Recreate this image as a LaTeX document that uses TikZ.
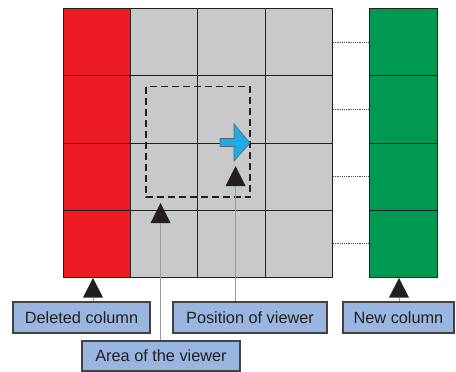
\documentclass[tikz,border=0pt]{standalone}
\usepackage{fontspec}
\setmainfont{Liberation Sans}
\definecolor{cellred}{RGB}{237,28,36}
\definecolor{cellgray}{RGB}{200,201,203}
\definecolor{cellgreen}{RGB}{0,153,84}
\definecolor{arrowblue}{RGB}{30,172,230}
\definecolor{boxblue}{RGB}{152,182,224}
\definecolor{ink}{RGB}{35,31,32}
\tikzset{
  gridline/.style={draw=ink, line width=0.9pt},
  label box/.style={draw=ink!85, line width=1.2pt, fill=boxblue,
    minimum height=31pt, inner sep=0pt, text=ink, font=\fontsize{16.3}{19}\selectfont},
  pointer/.style={fill=ink},
  leader/.style={draw=gray!80, line width=0.7pt},
  guide/.style={draw=ink!80, line width=0.8pt, dash pattern=on 1.2pt off 1pt},
  viewport/.style={draw=ink, line width=1.8pt, dash pattern=on 7pt off 4pt},
}
\begin{document}
\begin{tikzpicture}[x=1pt,y=-1pt]
\useasboundingbox (0,0) rectangle (456,372);

% the grid of cells, first column marked for deletion
\fill[cellgray] (63,8) rectangle (332,277);
\fill[cellred] (63,8) rectangle (130,277);
\draw[gridline] (63,8) rectangle (332,277);
\foreach \x in {130,197,265} \draw[gridline] (\x,8) -- (\x,277);
\foreach \y in {75,143,210} \draw[gridline] (63,\y) -- (332,\y);

% incoming column
\fill[cellgreen] (369,8) rectangle (437,277);
\draw[gridline] (369,8) rectangle (437,277);
\foreach \y in {75,143,210} \draw[gridline] (369,\y) -- (437,\y);

% row guides between grid and new column
\foreach \y in {42,109,176,243} \draw[guide] (333,\y) -- (369,\y);

% area seen by the viewer
\draw[viewport] (146,86.5) rectangle (250,197);

% viewer position and heading
\filldraw[fill=arrowblue, draw=ink!70, line width=0.6pt]
  (220,138.5) -- (234,138.5) -- (234,124) -- (250,143) -- (234,161)
  -- (234,146.5) -- (220,146.5) -- cycle;

% pointer triangles; each base is a named coordinate
\coordinate (tdel) at (93,297.5);
\coordinate (tarea) at (160.5,223);
\coordinate (tpos) at (235.5,186);
\coordinate (tnew) at (399,297.5);
\fill[pointer] (tdel) ++(-10,0) -- ++(10,-19.5) -- ++(10,19.5) -- cycle;
\fill[pointer] (tarea) ++(-10,0) -- ++(10,-20) -- ++(10,20) -- cycle;
\fill[pointer] (tpos) ++(-10,0) -- ++(10,-20) -- ++(10,20) -- cycle;
\fill[pointer] (tnew) ++(-10,0) -- ++(10,-19.5) -- ++(10,19.5) -- cycle;

% labels
\node[label box, minimum width=137pt] (del) at (81.5,317.5) {Deleted column};
\node[label box, minimum width=154pt] (pos) at (250,317.5) {Position of viewer};
\node[label box, minimum width=111pt] (new) at (398.5,317.5) {New column};
\node[label box, minimum width=158pt, minimum height=30pt] (area) at (161,356) {Area of the viewer};

% leaders from labels to pointers
\draw[leader] (del.north -| tdel) -- (tdel);
\draw[leader] (pos.north -| tpos) -- (tpos);
\draw[leader] (area.north -| tarea) -- (tarea);
\draw[leader] (new.north -| tnew) -- (tnew);
\end{tikzpicture}
\end{document}
